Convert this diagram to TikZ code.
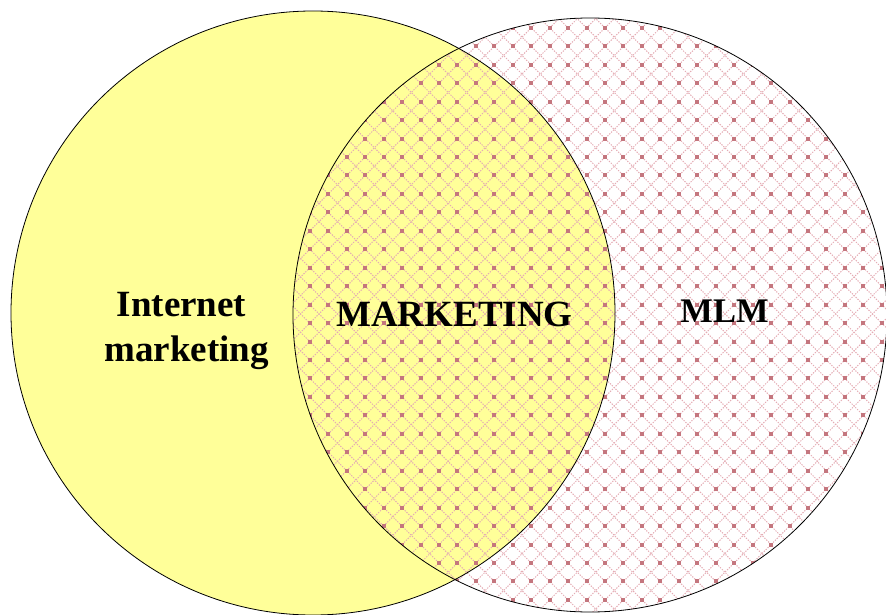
\documentclass[tikz,border=0pt]{standalone}
\usepackage{fontspec}
\setmainfont{Liberation Serif}
\definecolor{vyellow}{RGB}{255,255,153}
\definecolor{patdot}{RGB}{196,118,126}
\definecolor{patline}{RGB}{228,172,180}
\tikzset{
  circ/.style={draw=black, line width=0.8bp},
  latline/.style={draw=patline, line width=1bp, dash pattern=on 1.3bp off 1.3bp},
  lbl/.style={anchor=base, font=\bfseries\fontsize{37bp}{46bp}\selectfont, inner sep=0pt, align=center},
}
\begin{document}
\begin{tikzpicture}[x=1bp,y=-1bp]
\useasboundingbox (0,0) rectangle (886,615);
\coordinate (cl) at (313,313);
\coordinate (cr) at (590,315);
\fill[vyellow] (cl) circle (302);
\begin{scope}
  \clip (cr) circle (297);
  \pgfmathsetmacro{\s}{18.45}
  \foreach \k in {-50,...,50}{
    \draw[latline] ({605+\k*\s-700},{101.7-700}) -- ++(1400,1400);
    \draw[latline] ({605+\k*\s+700},{101.7-700}) -- ++(-1400,1400);
  }
  \foreach \i in {-17,...,16}{
    \foreach \j in {-5,...,28}{
      \fill[patdot] ({605+\i*\s-2},{101.7+\j*\s-2}) rectangle ++(4,4);
    }
  }
\end{scope}
\draw[circ] (cl) circle (302);
\draw[circ] (cr) circle (297);
\node[lbl] (im1) at (181.5,316) {Internet};
\node[lbl] (im2) at (186.5,361.7) {marketing};
\node[lbl] (mk) at (454.5,326.7) {MARKETING};
\node[lbl, font=\bfseries\fontsize{34.5bp}{40bp}\selectfont] (mlm) at (724.5,322.3) {MLM};
\end{tikzpicture}
\end{document}
